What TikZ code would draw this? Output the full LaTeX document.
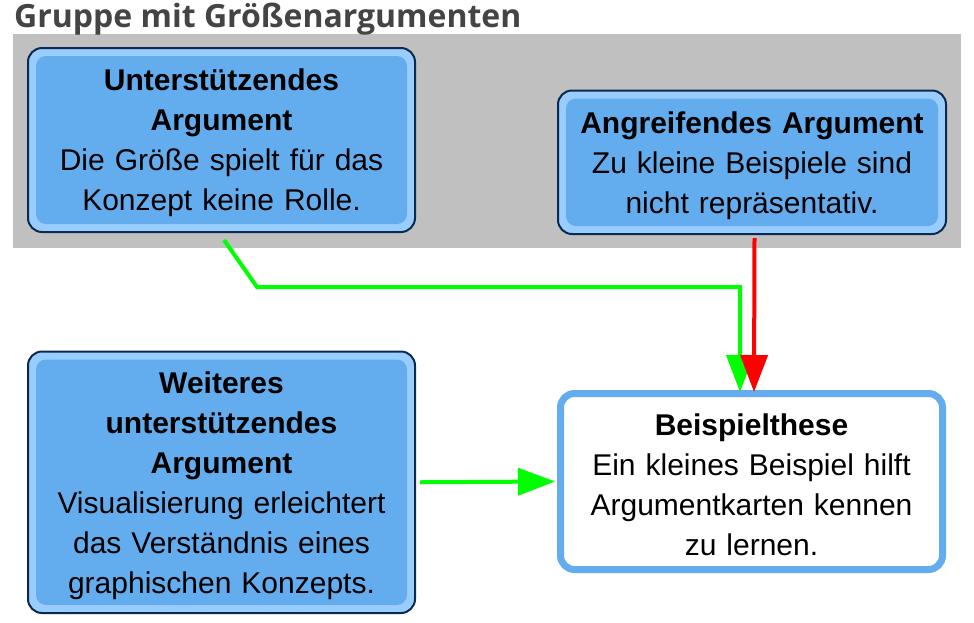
\documentclass[tikz,border=0pt]{standalone}
\usepackage{fontspec}
\setmainfont{Liberation Sans}
\newfontfamily\grouptitlefont{Open Sans}
\usepackage{tikz}
\usetikzlibrary{arrows.meta}
\definecolor{argborder}{HTML}{0B2B4C}
\definecolor{argband}{HTML}{99CCFF}
\definecolor{argfill}{HTML}{63ADEF}
\definecolor{groupgrey}{HTML}{C0C0C0}
\definecolor{titlegrey}{HTML}{444444}
\definecolor{supportgreen}{HTML}{00FF00}
\definecolor{attackred}{HTML}{FF0000}

\begin{document}
\begin{tikzpicture}[x=1pt, y=-1pt,
        argument/.style={draw=argborder, line width=2pt, fill=argband,
            rounded corners=14pt, anchor=north west, align=center,
            text width=370pt, inner sep=0pt, minimum width=387pt,
            font=\fontsize{30}{40}\selectfont,
            path picture={\fill[argfill, rounded corners=10pt]
                ([shift={(8pt,-8pt)}]path picture bounding box.north west) rectangle
                ([shift={(-8pt,8pt)}]path picture bounding box.south east);}},
        thesis/.style={draw=argfill, line width=7pt, fill=white,
            rounded corners=14pt, anchor=north west, align=center,
            text width=370pt, inner sep=0pt, minimum width=382pt,
            font=\fontsize{30}{40}\selectfont},
        support/.style={draw=supportgreen, line width=4pt,
            -{Triangle[width=27pt, length=37pt]}},
        attack/.style={draw=attackred, line width=4pt,
            -{Triangle[width=27pt, length=37pt]}}]
    \useasboundingbox (0,0) rectangle (974,622);
    \fill[groupgrey] (13,34) rectangle (961,248);
    \node[anchor=base west, text=titlegrey, inner sep=0pt,
        font=\grouptitlefont\bfseries\fontsize{32}{38}\selectfont] (gtitle) at (14,27)
        {Gruppe mit Größenargumenten};

    \node[argument, minimum height=184pt] (supp) at (27,47)
        {\strut\textbf{Unterstützendes}\\\textbf{Argument}\\Die Größe spielt für das\\Konzept keine Rolle.};
    \node[argument, minimum height=143.5pt, minimum width=388pt] (att) at (557,89.5)
        {\strut\textbf{Angreifendes Argument}\\Zu kleine Beispiele sind\\nicht repräsentativ.};
    \node[argument, minimum height=261.5pt] (supp2) at (27,350.5)
        {\strut\textbf{Weiteres}\\\textbf{unterstützendes}\\\textbf{Argument}\\Visualisierung erleichtert\\das Verständnis eines\\graphischen Konzepts.};
    \node[thesis, minimum height=176pt] (these) at (557,390)
        {\strut\textbf{Beispielthese}\\Ein kleines Beispiel hilft\\Argumentkarten kennen\\zu lernen.};

    \coordinate (bend) at (257,287);
    \draw[support] ([shift={(2.5pt,-7pt)}]supp.south) -- (bend)
        -| ([shift={(-11.5pt,-2pt)}]these.north);
    \draw[attack] ([shift={(2.5pt,-3pt)}]att.south) -- ([shift={(2.5pt,-2pt)}]these.north);
    \draw[support] ([xshift=4pt]supp2.east) -- ([xshift=-2pt]these.west);
\end{tikzpicture}
\end{document}
